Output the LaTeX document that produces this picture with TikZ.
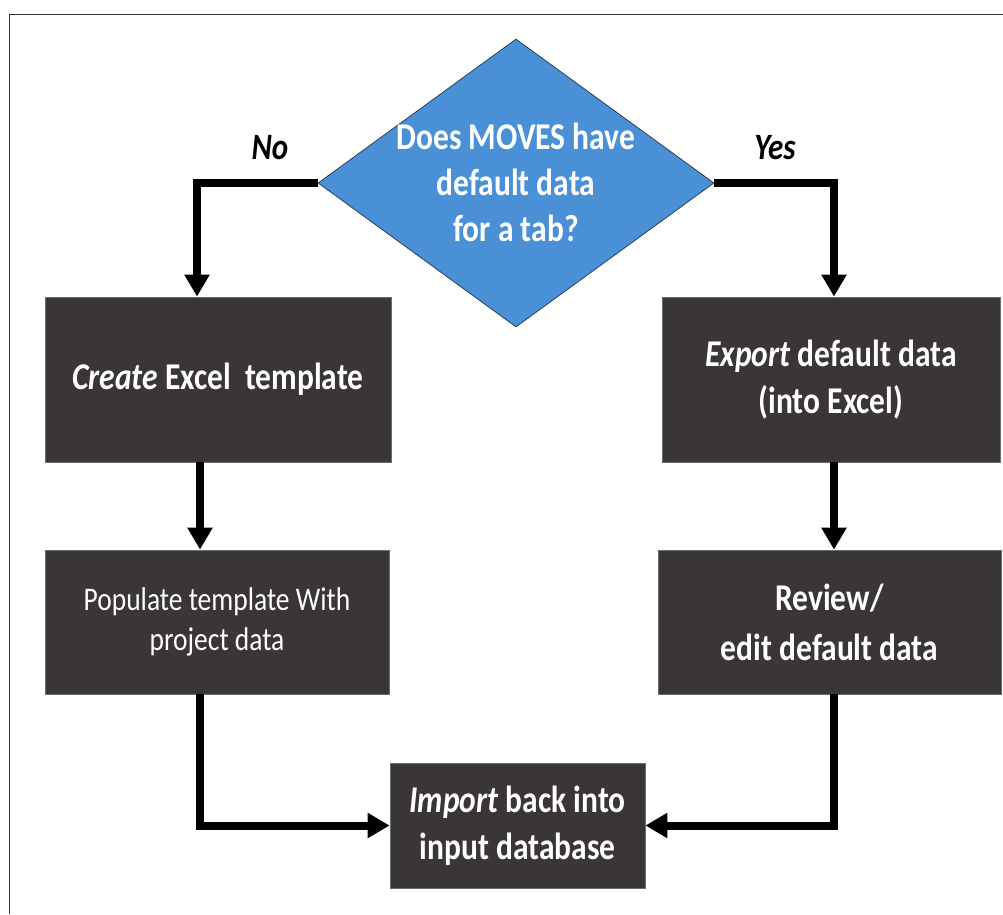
\documentclass[tikz,border=0pt]{standalone}
\usepackage{fontspec}
\setmainfont{Carlito}
\usetikzlibrary{arrows.meta,shapes.geometric}
\definecolor{boxfill}{RGB}{58,53,54}
\definecolor{boxedge}{RGB}{110,108,108}
\definecolor{diafill}{RGB}{74,144,214}
\definecolor{diaedge}{RGB}{45,65,90}
\newcommand{\tl}[1]{\scalebox{1}[1.2]{#1}}
\begin{document}
\begin{tikzpicture}[x=1pt,y=-1pt,
  box/.style={draw=boxedge, line width=0.8pt, fill=boxfill, text=white,
    font=\bfseries\fontsize{31.5}{47}\selectfont, align=center, inner sep=0pt},
  dia/.style={diamond, draw=diaedge, line width=0.8pt, fill=diafill, inner sep=0pt,
    minimum width=396pt, minimum height=288pt},
  dtext/.style={text=white, font=\bfseries\fontsize{31.5}{46}\selectfont, align=center, inner sep=0pt},
  lab/.style={font=\bfseries\itshape\fontsize{31}{36}\selectfont, inner sep=0pt},
  arr/.style={line width=8pt, line join=miter, -{Triangle[width=24pt,length=22pt]}},
  frame/.style={draw=black!80, line width=1.6pt}]
\useasboundingbox (0,0) rectangle (1003,914);
\draw[frame] (9.5,914) -- (9.5,14.5) -- (1003,14.5);

\node[dia] (dec) at (516,183) {};
\node[dtext] (dq) at (516,182.5) {\tl{Does MOVES have}\\\tl{default data}\\\tl{for a tab?}};
\node[lab] (no) at (270,148) {\tl{No}};
\node[lab] (yes) at (775,148) {\tl{Yes}};

\node[box, minimum width=346pt, minimum height=165pt] (create) at (218,379.5)
  {\tl{\textit{Create} Excel\ \ template}};
\node[box, minimum width=338pt, minimum height=165pt] (export) at (831,379.5)
  {\tl{\textit{Export} default data}\\\tl{(into Excel)}};
\node[box, minimum width=344pt, minimum height=144pt,
  font=\fontsize{27.5}{40}\selectfont] (populate) at (217,622)
  {\tl{Populate template With}\\\tl{project data}};
\node[box, minimum width=343pt, minimum height=144pt,
  font=\bfseries\fontsize{31.5}{50}\selectfont] (review) at (829.5,622)
  {\tl{Review/}\\\tl{edit default data}};
\node[box, minimum width=255pt, minimum height=125pt] (import) at (517.5,825.5)
  {\tl{\textit{Import} back into}\\\tl{input database}};

\draw[arr] (dec.west) -| ([xshift=-21pt]create.north);
\draw[arr] (dec.east) -| ([xshift=3pt]export.north);
\draw[arr] ([xshift=-18pt]create.south) -- ([xshift=-18pt]create.south |- populate.north);
\draw[arr] ([xshift=3pt]export.south) -- ([xshift=3pt]export.south |- review.north);
\draw[arr] ([xshift=-17pt]populate.south) |- (import.west);
\draw[arr] ([xshift=4pt]review.south) |- (import.east);
\end{tikzpicture}
\end{document}
